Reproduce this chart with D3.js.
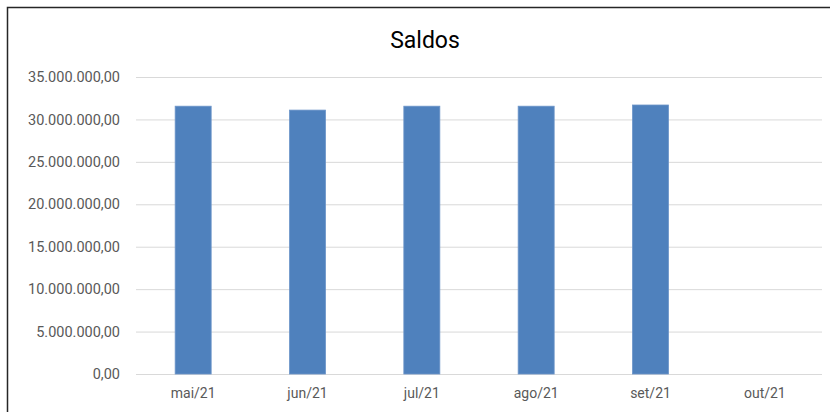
<!DOCTYPE html>
<html>
<head>
<meta charset="utf-8">
<script src="https://cdn.jsdelivr.net/npm/d3@7"></script>
<style>
  body { margin: 0; background: #fff; }
  text { font-family: "Liberation Sans Narrow", "Arial Narrow", "Roboto", sans-serif; }
</style>
</head>
<body>
<div id="chart"></div>
<script>
//
// Data
//
var months = ["mai/21", "jun/21", "jul/21", "ago/21", "set/21", "out/21"];
var saldos = [31560000, 31100000, 31560000, 31560000, 31700000, 0];
var yTicks = [0, 5000000, 10000000, 15000000, 20000000, 25000000, 30000000, 35000000];

var width = 830,
    height = 412,
    margin = {top: 77, right: 8, bottom: 38, left: 136};

var svg = d3.select("#chart").append("svg")
    .attr("width", width)
    .attr("height", height);

// chart frame (cut off at right and bottom)
svg.append("rect")
    .attr("x", 7.5)
    .attr("y", 7.5)
    .attr("width", width + 20)
    .attr("height", height + 20)
    .attr("fill", "none")
    .attr("stroke", "#262626")
    .attr("stroke-width", 1.5);

var x = d3.scaleBand()
    .domain(months)
    .range([margin.left, width - margin.right])
    .paddingInner(0.685)
    .paddingOuter(0.3425);

var y = d3.scaleLinear()
    .domain([0, 35000000])
    .range([height - margin.bottom, margin.top]);

var fmt = function(v) {
    return d3.format(",.2f")(v).replace(/,/g, "#").replace(".", ",").replace(/#/g, ".");
};

// gridlines
svg.append("g")
    .selectAll("line")
    .data(yTicks)
    .enter().append("line")
    .attr("x1", margin.left)
    .attr("x2", width - margin.right)
    .attr("y1", function(d) { return y(d) + 0.5; })
    .attr("y2", function(d) { return y(d) + 0.5; })
    .attr("stroke", "#d9d9d9")
    .attr("stroke-width", 1);

// y axis labels
var yAxis = svg.append("g")
    .attr("transform", "translate(" + (margin.left - 16) + ",0)")
    .call(d3.axisLeft(y).tickValues(yTicks).tickFormat(fmt).tickSize(0).tickPadding(0));
yAxis.select(".domain").remove();
yAxis.selectAll("text")
    .attr("fill", "#595959")
    .style("font-size", "14.5px");

// bars
svg.append("g")
    .selectAll("rect")
    .data(saldos)
    .enter().append("rect")
    .attr("x", function(d, i) { return x(months[i]); })
    .attr("width", x.bandwidth())
    .attr("y", function(d) { return y(d); })
    .attr("height", function(d) { return y(0) - y(d); })
    .attr("fill", "#4f81bd")
    .attr("stroke", "#6d95c9")
    .attr("stroke-width", 0.8)
    .attr("display", function(d) { return d > 0 ? null : "none"; });

// x axis labels
var xAxis = svg.append("g")
    .attr("transform", "translate(0," + (y(0) + 14) + ")")
    .call(d3.axisBottom(x).tickSize(0).tickPadding(0));
xAxis.select(".domain").remove();
xAxis.selectAll("text")
    .attr("fill", "#595959")
    .style("font-size", "14px");

// title
svg.append("text")
    .attr("x", 425)
    .attr("y", 48)
    .attr("text-anchor", "middle")
    .attr("fill", "#000")
    .style("font-size", "23px")
    .text("Saldos");
</script>
</body>
</html>
